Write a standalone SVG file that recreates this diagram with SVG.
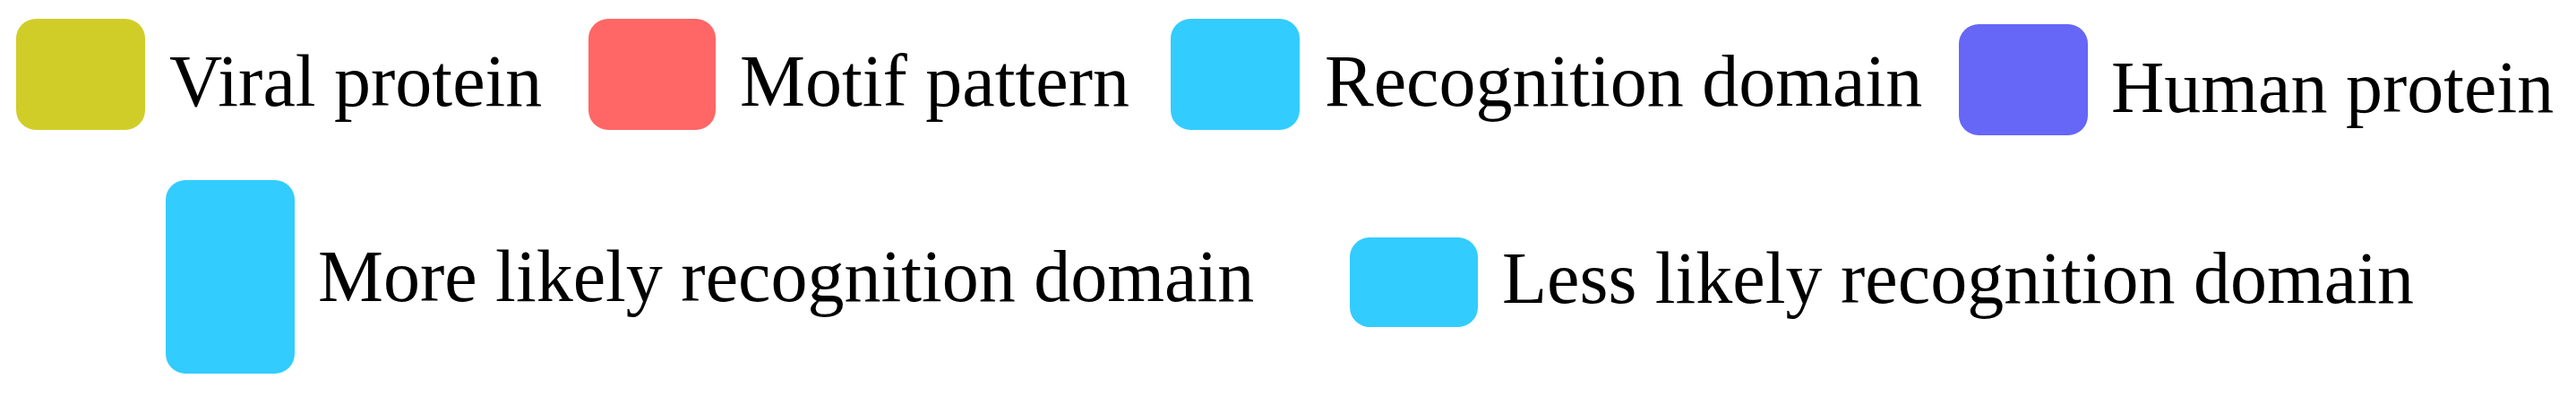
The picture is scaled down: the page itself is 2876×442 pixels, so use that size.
<svg xmlns="http://www.w3.org/2000/svg" width="2876" height="442" viewBox="0 0 2876 442">
<style>
.lbl{font-family:"Liberation Serif","Times New Roman",serif;font-size:82px;fill:#000}
.sw{stroke:none}
</style>
<rect x="0" y="0" width="2876" height="442" fill="#fff"/>
<g id="viral">
<rect class="sw" x="18" y="21" width="144" height="124" rx="22" ry="22" fill="#D0CD29"/>
<text class="lbl" x="189" y="118">Viral protein</text>
</g>
<g id="motif">
<rect class="sw" x="657" y="21" width="142" height="124" rx="22" ry="22" fill="#FF6666"/>
<text class="lbl" x="826" y="118">Motif pattern</text>
</g>
<g id="recognition">
<rect class="sw" x="1307" y="21" width="144" height="124" rx="22" ry="22" fill="#33CCFF"/>
<text class="lbl" x="1479" y="118">Recognition domain</text>
</g>
<g id="human">
<rect class="sw" x="2187" y="27" width="144" height="124" rx="22" ry="22" fill="#6666F7"/>
<text class="lbl" x="2357" y="125">Human protein</text>
</g>
<g id="more-likely">
<rect class="sw" x="185" y="201" width="144" height="216" rx="22" ry="22" fill="#33CCFF"/>
<text class="lbl" x="355" y="336">More likely recognition domain</text>
</g>
<g id="less-likely">
<rect class="sw" x="1507" y="265" width="143" height="100" rx="22" ry="22" fill="#33CCFF"/>
<text class="lbl" x="1677" y="338">Less likely recognition domain</text>
</g>
<g id="connectors"></g>
</svg>
